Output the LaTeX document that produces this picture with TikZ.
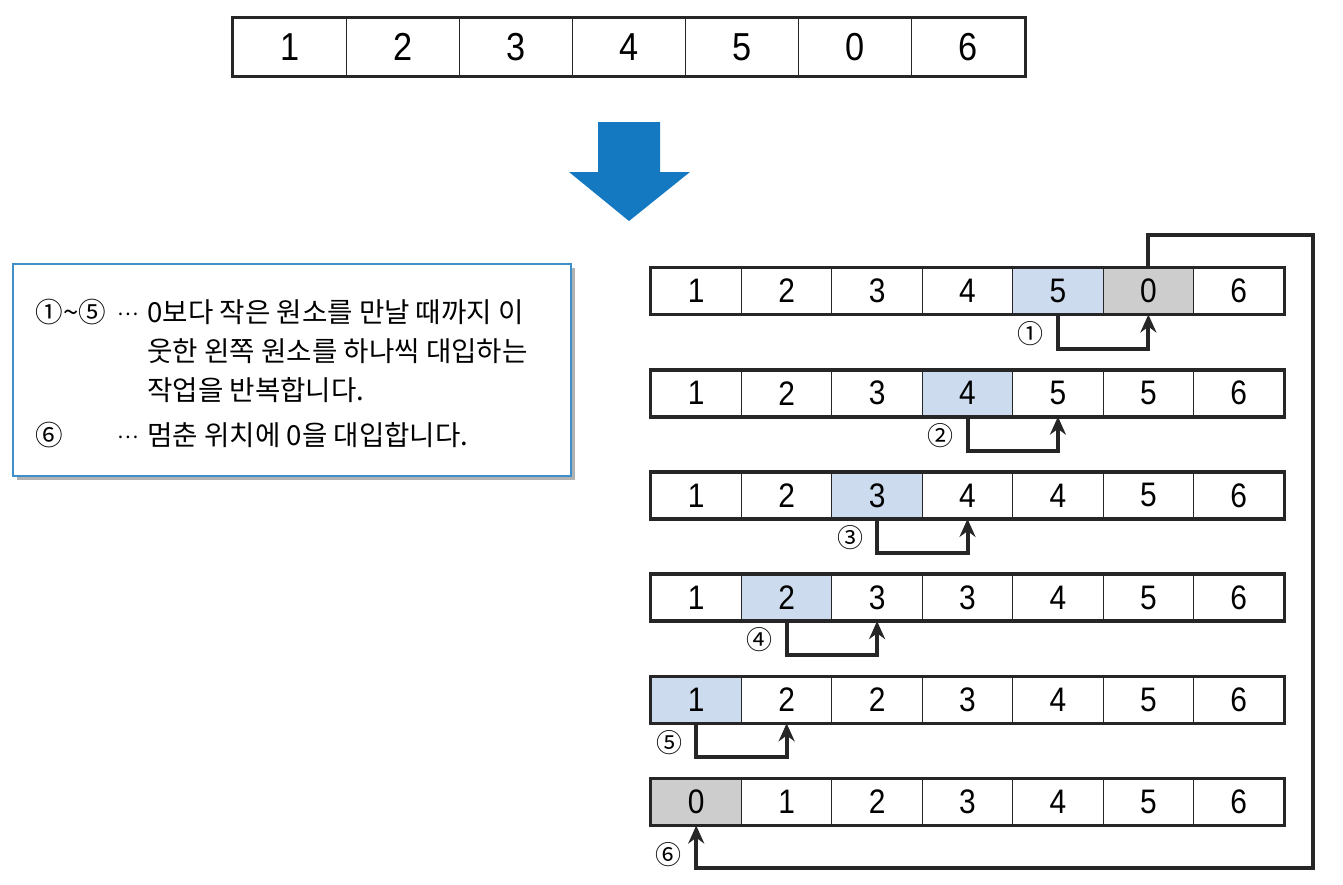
\documentclass[tikz,border=0pt]{standalone}
\usepackage{fontspec}
\setmainfont{Liberation Sans}
\newfontfamily\korfont{Noto Sans CJK KR}
\newfontfamily\digfont[FakeStretch=0.88]{Liberation Sans}
\usetikzlibrary{arrows.meta,calc,shadows}
\definecolor{hlblue}{HTML}{CCDCEE}
\definecolor{hlgrey}{HTML}{CDCDCD}
\definecolor{bigblue}{HTML}{1479C0}
\definecolor{notebd}{HTML}{3F8FCB}

\begin{document}
\begin{tikzpicture}[x=0.5pt, y=-0.5pt,
  cell/.style={draw=black!85, line width=0.5pt, minimum width=45.2pt,
    minimum height=23pt, inner sep=0pt, font=\digfont\fontsize{17}{17}\selectfont},
  topcell/.style={cell, minimum width=56.57pt, minimum height=29pt,
    font=\digfont\fontsize{19.5}{19.5}\selectfont},
  rowframe/.style={draw=black!85, line width=1.8pt},
  moveline/.style={draw=black!85, line width=2pt, -{Stealth[length=9pt,width=8pt]}},
  numlbl/.style={font=\korfont\fontsize{13}{13}\selectfont, inner sep=0pt},
  note/.style={font=\korfont\fontsize{13.8}{13.8}\selectfont, anchor=base west, inner sep=0pt},
  dots/.style={font=\korfont\fontsize{10}{10}\selectfont, anchor=base west, inner sep=0pt}]
\useasboundingbox (0,0) rectangle (1343,884);
% ----- the array before the insertion -----
\foreach \v [count=\c] in {1,2,3,4,5,0,6}
  \node[topcell] (t\c) at ({233+113.14*(\c-0.5)}, 47) {\v};
\draw[rowframe] (t1.north west) rectangle (t7.south east);
\fill[bigblue] (598,122) -- (660,122) -- (660,172) -- (690,172)
  -- (629,221) -- (569,172) -- (598,172) -- cycle;
% ----- the note -----
\node[draw=notebd, line width=0.8pt, fill=white, minimum width=279pt,
  minimum height=106pt, drop shadow={shadow xshift=2pt, shadow yshift=-2pt,
  fill=black!30, opacity=1}] (notebox) at (292,370) {};
\node[note] (mk1) at (35,322) {①\textasciitilde⑤};
\node[dots] (dots1) at (117,315) {…};
\node[note] (line1) at (147,322) {0보다 작은 원소를 만날 때까지 이};
\node[note] (line2) at (147,361) {웃한 왼쪽 원소를 하나씩 대입하는};
\node[note] (line3) at (147,400) {작업을 반복합니다.};
\node[note] (mk2) at (35,445) {⑥};
\node[dots] (dots2) at (117,438) {…};
\node[note] (line4) at (147,445) {멈춘 위치에 0을 대입합니다.};
% ----- the six rows, one step each -----
\foreach \r/\row/\b/\g in {1/{1,2,3,4,5,0,6}/5/6, 2/{1,2,3,4,5,5,6}/4/0,
    3/{1,2,3,4,4,5,6}/3/0, 4/{1,2,3,3,4,5,6}/2/0,
    5/{1,2,2,3,4,5,6}/1/0, 6/{0,1,2,3,4,5,6}/0/1}{
  \foreach \v [count=\c] in \row {
    \def\fc{white}
    \ifnum\c=\b \def\fc{hlblue}\fi
    \ifnum\c=\g \def\fc{hlgrey}\fi
    \node[cell, fill=\fc] (r\r-\c) at ({651+90.43*(\c-0.5)}, {291+102.2*(\r-1)}) {\v};
  }
  \draw[rowframe] (r\r-1.north west) rectangle (r\r-7.south east);
}
\foreach \r/\b/\mk in {1/5/①, 2/4/②, 3/3/③, 4/2/④, 5/1/⑤}{
  \pgfmathtruncatemacro\t{\b+1}
  \draw[moveline] (r\r-\b.south) -- ++(0,34) -| (r\r-\t.south);
  \node[numlbl] (n\r) at ($(r\r-\b.south)+(-27,19)$) {\mk};
}
% ----- 0 goes back to the front -----
\coordinate (loopTR) at (1313,235);
\coordinate (loopBR) at (1313,868);
\draw[moveline] (r1-6.north) |- (loopTR) -- (loopBR) -| (r6-1.south);
\node[numlbl] (n6) at (668,855) {⑥};
\end{tikzpicture}
\end{document}
